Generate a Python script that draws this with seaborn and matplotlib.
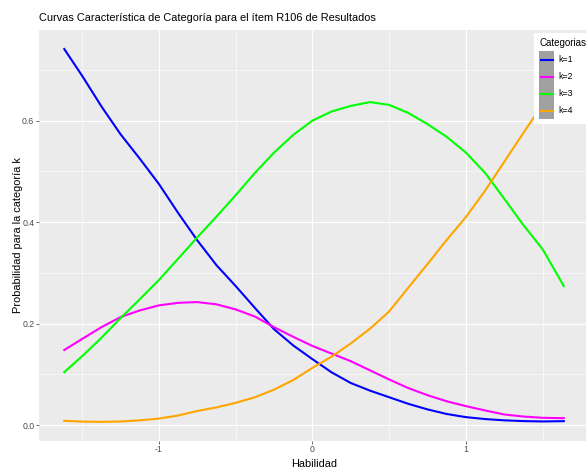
import matplotlib
matplotlib.use("Agg")
import matplotlib.pyplot as plt
from matplotlib.patches import Rectangle
from matplotlib.lines import Line2D
import pandas as pd
import seaborn as sns

# Category characteristic curves, item R106
theta = [-1.617, -1.5, -1.375, -1.25, -1.125, -1.0, -0.875, -0.75, -0.625, -0.5,
         -0.375, -0.25, -0.125, 0.0, 0.125, 0.25, 0.375, 0.5, 0.625, 0.75,
         0.875, 1.0, 1.125, 1.25, 1.375, 1.5, 1.638]
p_k1 = [0.741, 0.688, 0.628, 0.573, 0.525, 0.475, 0.418, 0.364, 0.315, 0.274,
        0.231, 0.189, 0.157, 0.130, 0.104, 0.083, 0.068, 0.055, 0.042, 0.031,
        0.022, 0.0158, 0.012, 0.0095, 0.0080, 0.0073, 0.0079]
p_k2 = [0.148, 0.170, 0.193, 0.213, 0.226, 0.236, 0.241, 0.2425, 0.238, 0.228,
        0.214, 0.193, 0.174, 0.156, 0.141, 0.126, 0.108, 0.090, 0.073, 0.059,
        0.047, 0.0375, 0.029, 0.021, 0.017, 0.0145, 0.0138]
p_k3 = [0.1045, 0.136, 0.172, 0.211, 0.248, 0.286, 0.328, 0.370, 0.411, 0.453,
        0.497, 0.537, 0.572, 0.600, 0.618, 0.629, 0.6365, 0.631, 0.615, 0.593,
        0.568, 0.537, 0.497, 0.446, 0.394, 0.3465, 0.274]
p_k4 = [0.0085, 0.0070, 0.0065, 0.0072, 0.0095, 0.013, 0.019, 0.028, 0.035, 0.044,
        0.055, 0.070, 0.089, 0.113, 0.135, 0.161, 0.190, 0.224, 0.271, 0.3175,
        0.365, 0.410, 0.462, 0.519, 0.576, 0.632, 0.704]

categories = ["k=1", "k=2", "k=3", "k=4"]
colors = ["#0000FF", "#FF00FF", "#00FF00", "#FFA500"]

title = "Curvas Característica de Categoría para el ítem R106 de Resultados"
xlabel = "Habilidad"
ylabel = "Probabilidad para la categoría k"
legend_title = "Categorias"

df = pd.DataFrame({
    "theta": theta * 4,
    "prob": p_k1 + p_k2 + p_k3 + p_k4,
    "cat": sum([[c] * len(theta) for c in categories], []),
})

plt.rcParams["font.family"] = ["Liberation Sans", "DejaVu Sans"]
plt.rcParams["axes.unicode_minus"] = False

W, H = 586, 468
fig = plt.figure(figsize=(W / 100, H / 100), dpi=100)
left, right, top, bottom = 39.3, 588.8, 30.4, 440.5
ax = fig.add_axes([left / W, 1 - bottom / H, (right - left) / W, (bottom - top) / H])
ax.set_facecolor("#EBEBEB")

sns.lineplot(data=df, x="theta", y="prob", hue="cat", hue_order=categories,
             palette=dict(zip(categories, colors)), linewidth=1.5, ax=ax,
             legend=False, sort=True, estimator=None)

ax.set_xticks([-1, 0, 1])
ax.set_xticklabels(["-1", "0", "1"])
ax.set_xticks([-1.5, -0.5, 0.5, 1.5], minor=True)
ax.set_yticks([0.0, 0.2, 0.4, 0.6])
ax.set_yticklabels(["0.0", "0.2", "0.4", "0.6"])
ax.set_yticks([0.1, 0.3, 0.5, 0.7], minor=True)
ax.grid(which="major", color="white", linewidth=0.8)
ax.grid(which="minor", color="white", linewidth=0.4)
ax.set_axisbelow(True)
for s in ax.spines.values():
    s.set_visible(False)
ax.tick_params(which="major", length=2.0, width=0.5, color="#333333",
               labelcolor="#4D4D4D", labelsize=6.3, pad=1.6)
ax.tick_params(which="minor", length=0)

ax.set_xlabel(xlabel, fontsize=7.9, color="black", labelpad=3)
ax.set_ylabel(ylabel, fontsize=7.9, color="black", labelpad=-0.5)

fig.text(left / W, 1 - 18 / H, title, fontsize=7.9, ha="left", va="center")


class GreyKeyHandler:
    """Legend key: grey background box with a centred coloured line."""

    def legend_artist(self, legend, orig_handle, fontsize, handlebox):
        x0, y0 = -handlebox.xdescent, -handlebox.ydescent
        w, h = handlebox.width, handlebox.height
        rect = Rectangle((x0, y0), w, h, facecolor="#A0A0A0", edgecolor="none",
                         transform=handlebox.get_transform())
        line = Line2D([x0 + 1, x0 + w - 1], [y0 + h / 2, y0 + h / 2],
                      color=orig_handle.get_color(), linewidth=1.5,
                      transform=handlebox.get_transform())
        handlebox.add_artist(rect)
        handlebox.add_artist(line)
        return line


handles = [Line2D([], [], color=c, linewidth=1.5) for c in colors]
fs = 6.3
fs_px = fs * 100 / 72
key_h = 17.0
hh = (key_h / fs_px - 0.245) / 0.65
ax_h = bottom - top
leg = ax.legend(handles, categories, title=legend_title,
                handler_map={Line2D: GreyKeyHandler()},
                loc="upper left", bbox_to_anchor=(0.9003, 1.0 - 2.7 / ax_h),
                borderaxespad=0, fontsize=fs, title_fontsize=7.0,
                frameon=True, fancybox=False, framealpha=1,
                handlelength=14.7 / fs_px, handleheight=hh,
                handletextpad=4 / fs_px, labelspacing=0, borderpad=0.6,
                alignment="left")
leg._legend_box.sep = 2.0
leg.get_frame().set_edgecolor("none")
leg.get_frame().set_facecolor("white")

fig.savefig("out.png", dpi=100)
